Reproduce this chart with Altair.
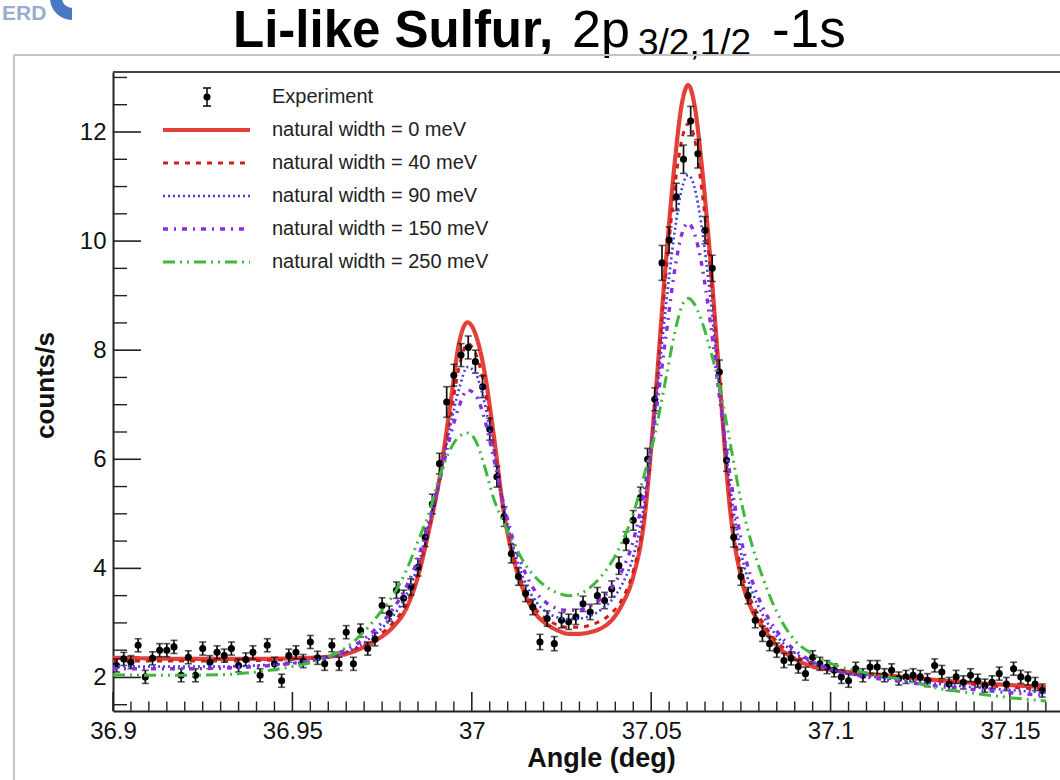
import altair as alt
import pandas as pd

# ---------------- data ----------------
curve_x = [36.900, 36.910, 36.920, 36.930, 36.940, 36.950, 36.955, 36.960, 36.965, 36.970,
           36.974, 36.978, 36.982, 36.985, 36.988, 36.991, 36.994, 36.9965, 36.9988, 37.001,
           37.0035, 37.006, 37.009, 37.012, 37.015, 37.018, 37.021, 37.024, 37.027, 37.030,
           37.033, 37.036, 37.039, 37.042, 37.045, 37.048, 37.051, 37.054, 37.0565, 37.0585,
           37.0603, 37.062, 37.064, 37.0665, 37.069, 37.072, 37.075, 37.078, 37.081, 37.085,
           37.090, 37.095, 37.100, 37.110, 37.120, 37.130, 37.140, 37.150, 37.160]

w0 = [2.36, 2.35, 2.34, 2.34, 2.34, 2.35, 2.36, 2.38, 2.43, 2.56,
      2.71, 2.92, 3.30, 3.85, 4.68, 5.65, 7.00, 8.15, 8.51, 8.30,
      7.62, 6.50, 5.00, 4.08, 3.50, 3.15, 2.97, 2.86, 2.80, 2.80,
      2.83, 2.90, 3.05, 3.35, 3.85, 4.85, 7.00, 9.55, 11.40, 12.50,
      12.86, 12.52, 11.45, 9.65, 7.50, 5.07, 3.85, 3.25, 2.93, 2.58,
      2.34, 2.20, 2.14, 2.07, 2.01, 1.95, 1.90, 1.86, 1.82]
w40 = [2.31, 2.30, 2.30, 2.30, 2.31, 2.33, 2.35, 2.39, 2.46, 2.60,
       2.77, 3.00, 3.38, 3.90, 4.70, 5.60, 6.75, 7.70, 8.12, 7.95,
       7.35, 6.30, 5.05, 4.15, 3.58, 3.24, 3.06, 2.96, 2.92, 2.92,
       2.96, 3.04, 3.18, 3.45, 3.95, 4.95, 7.00, 9.30, 10.95, 11.85,
       12.15, 11.90, 11.00, 9.45, 7.45, 5.25, 4.00, 3.38, 3.02, 2.66,
       2.40, 2.26, 2.17, 2.07, 2.00, 1.93, 1.87, 1.82, 1.78]
w90 = [2.21, 2.20, 2.20, 2.20, 2.22, 2.26, 2.30, 2.36, 2.46, 2.64,
       2.85, 3.12, 3.55, 4.05, 4.78, 5.62, 6.60, 7.30, 7.69, 7.58,
       7.05, 6.20, 5.10, 4.28, 3.72, 3.38, 3.19, 3.10, 3.07, 3.08,
       3.13, 3.24, 3.42, 3.72, 4.22, 5.15, 6.85, 8.75, 10.15, 10.95,
       11.21, 11.00, 10.30, 8.95, 7.30, 5.50, 4.30, 3.60, 3.16, 2.76,
       2.45, 2.27, 2.15, 2.03, 1.95, 1.88, 1.82, 1.77, 1.72]
w150 = [2.16, 2.16, 2.16, 2.17, 2.20, 2.26, 2.31, 2.39, 2.51, 2.71,
        2.94, 3.25, 3.70, 4.18, 4.85, 5.60, 6.42, 6.98, 7.27, 7.18,
        6.75, 6.05, 5.15, 4.42, 3.90, 3.55, 3.36, 3.26, 3.23, 3.24,
        3.31, 3.44, 3.65, 3.98, 4.50, 5.40, 6.70, 8.20, 9.45, 10.12,
        10.33, 10.15, 9.60, 8.50, 7.15, 5.70, 4.55, 3.80, 3.30, 2.85,
        2.50, 2.29, 2.15, 2.01, 1.92, 1.84, 1.78, 1.72, 1.67]
w250 = [2.05, 2.04, 2.04, 2.05, 2.10, 2.20, 2.27, 2.38, 2.55, 2.84,
        3.15, 3.50, 4.00, 4.50, 5.00, 5.68, 6.18, 6.42, 6.48, 6.35,
        5.88, 5.30, 4.82, 4.42, 4.06, 3.82, 3.65, 3.55, 3.50, 3.53,
        3.65, 3.85, 4.12, 4.50, 5.00, 5.70, 6.45, 7.45, 8.30, 8.80,
        8.95, 8.85, 8.55, 8.00, 7.35, 6.30, 5.25, 4.45, 3.85, 3.20,
        2.68, 2.43, 2.26, 2.08, 1.96, 1.80, 1.71, 1.63, 1.57]

exp_x = [36.901, 36.903, 36.905, 36.907, 36.909, 36.911, 36.913, 36.915, 36.917, 36.919,
         36.921, 36.923, 36.925, 36.927, 36.929, 36.931, 36.933, 36.935, 36.937, 36.939,
         36.941, 36.943, 36.945, 36.947, 36.949, 36.951, 36.953, 36.955, 36.957, 36.959,
         36.961, 36.963, 36.965, 36.967, 36.969, 36.971, 36.973, 36.975, 36.977, 36.979,
         36.981, 36.983, 36.985, 36.987, 36.989, 36.991, 36.993, 36.995, 36.997, 36.999,
         37.001, 37.003, 37.005, 37.007, 37.009, 37.011, 37.013, 37.015, 37.017, 37.019,
         37.021, 37.023, 37.025, 37.027, 37.029, 37.031, 37.033, 37.035, 37.037, 37.039,
         37.041, 37.043, 37.045, 37.047, 37.049, 37.051, 37.053, 37.055, 37.057, 37.059,
         37.061, 37.063, 37.065, 37.067, 37.069, 37.071, 37.073, 37.075, 37.077, 37.079,
         37.081, 37.083, 37.085, 37.087, 37.089, 37.091, 37.093, 37.095, 37.097, 37.099,
         37.101, 37.103, 37.105, 37.107, 37.109, 37.111, 37.113, 37.115, 37.117, 37.119,
         37.121, 37.123, 37.125, 37.127, 37.129, 37.131, 37.133, 37.135, 37.137, 37.139,
         37.141, 37.143, 37.145, 37.147, 37.149, 37.151, 37.153, 37.155, 37.157, 37.159]
exp_y = [2.22, 2.34, 2.28, 2.59, 2.01, 2.35, 2.50, 2.50, 2.56, 2.04,
         2.37, 2.04, 2.53, 2.28, 2.46, 2.40, 2.53, 2.22, 2.33, 2.46,
         2.04, 2.59, 2.25, 1.94, 2.40, 2.46, 2.30, 2.65, 2.36, 2.25,
         2.59, 2.25, 2.83, 2.25, 2.86, 2.53, 2.70, 3.32, 3.17, 3.60,
         3.45, 3.66, 4.02, 4.57, 5.18, 5.92, 7.05, 7.54, 7.91, 8.05,
         7.79, 7.33, 6.55, 5.68, 4.95, 4.27, 3.85, 3.54, 3.29, 2.65,
         3.08, 2.62, 3.05, 3.02, 3.11, 3.35, 3.20, 3.50, 3.41, 3.62,
         4.05, 4.50, 4.88, 5.30, 6.00, 7.10, 9.60, 10.02, 10.81, 11.50,
         12.20, 11.60, 10.20, 9.50, 7.60, 5.98, 4.57, 3.85, 3.50, 3.05,
         2.80, 2.62, 2.50, 2.31, 2.35, 2.20, 2.07, 2.37, 2.25, 2.19,
         2.13, 2.01, 1.94, 2.16, 2.04, 2.19, 2.19, 2.04, 2.13, 1.98,
         2.01, 2.04, 2.01, 1.95, 2.22, 2.10, 1.88, 2.01, 1.91, 2.04,
         1.94, 1.85, 1.91, 2.07, 1.88, 2.16, 2.01, 1.98, 1.88, 1.76]
exp_err = [0.12, 0.12, 0.12, 0.12, 0.12, 0.12, 0.12, 0.12, 0.12, 0.12,
           0.12, 0.12, 0.12, 0.12, 0.12, 0.12, 0.12, 0.12, 0.12, 0.12,
           0.12, 0.12, 0.12, 0.12, 0.12, 0.12, 0.12, 0.12, 0.12, 0.12,
           0.12, 0.12, 0.12, 0.12, 0.12, 0.12, 0.12, 0.14, 0.14, 0.15,
           0.15, 0.15, 0.16, 0.17, 0.18, 0.19, 0.28, 0.20, 0.21, 0.21,
           0.21, 0.20, 0.20, 0.19, 0.18, 0.17, 0.16, 0.15, 0.14, 0.14,
           0.14, 0.13, 0.14, 0.14, 0.14, 0.14, 0.14, 0.15, 0.15, 0.15,
           0.16, 0.17, 0.18, 0.19, 0.20, 0.21, 0.32, 0.24, 0.25, 0.26,
           0.27, 0.26, 0.25, 0.24, 0.22, 0.20, 0.18, 0.16, 0.15, 0.14,
           0.14, 0.13, 0.13, 0.13, 0.12, 0.12, 0.12, 0.12, 0.12, 0.12,
           0.12, 0.12, 0.12, 0.12, 0.12, 0.12, 0.12, 0.12, 0.12, 0.12,
           0.12, 0.12, 0.12, 0.12, 0.12, 0.12, 0.12, 0.12, 0.12, 0.12,
           0.12, 0.12, 0.12, 0.12, 0.12, 0.12, 0.12, 0.12, 0.12, 0.12]

series_labels = ["natural width = 0 meV", "natural width = 40 meV", "natural width = 90 meV",
                 "natural width = 150 meV", "natural width = 250 meV"]
series_values = [w0, w40, w90, w150, w250]
x_major = [36.9, 36.95, 37.0, 37.05, 37.1, 37.15]
y_major = [2, 4, 6, 8, 10, 12]

# ---------------- styling ----------------
W, H = 947, 639
PL, PT = 113, 72
FONT = "Liberation Sans"
styles = [
    dict(color="#e3403a", strokeWidth=4.2, strokeDash=[1, 0]),
    dict(color="#d01e1e", strokeWidth=3.0, strokeDash=[5, 6]),
    dict(color="#3b3bef", strokeWidth=2.6, strokeDash=[2, 3]),
    dict(color="#8a2be2", strokeWidth=3.4, strokeDash=[5, 6, 2, 6]),
    dict(color="#3dba3d", strokeWidth=3.0, strokeDash=[12, 5, 2, 5, 2, 5]),
]

x_scale = alt.Scale(domain=[36.9, 36.9 + W / 3588.0], nice=False, zero=False)
y_scale = alt.Scale(domain=[1.385, 13.10], nice=False, zero=False)

x_axis = alt.Axis(values=x_major, format="~g", ticks=False, tickSize=0, grid=False,
                  labelFont=FONT, labelFontSize=24, labelColor="#111", labelPadding=8,
                  domainColor="#222", domainWidth=2, labelFlush=False,
                  titleFont=FONT, titleFontSize=27, titleFontWeight="bold",
                  titleColor="#111", titleX=488, titleY=47, titleBaseline="middle", titleAlign="center")
y_axis = alt.Axis(values=y_major, ticks=False, tickSize=0, grid=False,
                  labelFont=FONT, labelFontSize=24, labelColor="#111", labelPadding=7,
                  domainColor="#222", domainWidth=2, labelFlush=False,
                  titleFont=FONT, titleFontSize=26, titleFontWeight="bold",
                  titleColor="#111", titleAngle=270, titleX=-68, titleY=313,
                  titleBaseline="middle", titleAlign="center")


def X(field):
    return alt.X(field, scale=x_scale, axis=x_axis, title="Angle (deg)")


def Y(field):
    return alt.Y(field, scale=y_scale, axis=y_axis, title="counts/s")


one = pd.DataFrame({"a": [0]})

# curves
curve_layers = []
for lab, vals, st in zip(series_labels, series_values, styles):
    df = pd.DataFrame({"x": curve_x, "y": vals})
    curve_layers.append(
        alt.Chart(df).mark_line(interpolate="monotone", clip=True, **st).encode(
            x=X("x:Q"), y=Y("y:Q"))
    )

# experiment
dfe = pd.DataFrame({"x": exp_x, "y": exp_y, "e": exp_err})
base_e = alt.Chart(dfe).transform_calculate(lo="datum.y - datum.e", hi="datum.y + datum.e")
ebar = base_e.mark_rule(color="#111", strokeWidth=1.7).encode(x=X("x:Q"), y=Y("lo:Q"), y2="hi:Q")
cap_lo = base_e.mark_tick(orient="horizontal", color="#111", size=7, thickness=1.6).encode(
    x=X("x:Q"), y=Y("lo:Q"))
cap_hi = base_e.mark_tick(orient="horizontal", color="#111", size=7, thickness=1.6).encode(
    x=X("x:Q"), y=Y("hi:Q"))
pts = base_e.mark_circle(color="#000", size=50, opacity=1).encode(x=X("x:Q"), y=Y("y:Q"))

# inward ticks (ROOT style)
xmin_ticks = [round(36.9 + 0.005 * i, 3) for i in range(53)]
ymin_ticks = [1.5 + 0.5 * i for i in range(24)]
dxM = pd.DataFrame({"x": x_major})
dxm = pd.DataFrame({"x": [v for v in xmin_ticks if v not in x_major]})
dyM = pd.DataFrame({"y": y_major})
dym = pd.DataFrame({"y": [v for v in ymin_ticks if v not in y_major]})

xt_major = alt.Chart(dxM).mark_rule(color="#222", strokeWidth=1.6).encode(
    x=X("x:Q"), y=alt.value(H), y2=alt.value(H - 19))
xt_minor = alt.Chart(dxm).mark_rule(color="#222", strokeWidth=1.4).encode(
    x=X("x:Q"), y=alt.value(H), y2=alt.value(H - 9.5))
yt_major = alt.Chart(dyM).mark_rule(color="#222", strokeWidth=1.6).encode(
    y=Y("y:Q"), x=alt.value(0), x2=alt.value(28))
yt_minor = alt.Chart(dym).mark_rule(color="#222", strokeWidth=1.4).encode(
    y=Y("y:Q"), x=alt.value(0), x2=alt.value(14))
top_frame = alt.Chart(one).mark_rule(color="#444", strokeWidth=2).encode(
    x=alt.value(0), x2=alt.value(W), y=alt.value(0))

# legend (manual, inside the frame)
leg = []
ly0 = 25
leg.append(alt.Chart(one).mark_rule(color="#111", strokeWidth=1.6).encode(
    x=alt.value(94), y=alt.value(ly0 - 9), y2=alt.value(ly0 + 9)))
for yy in (ly0 - 9, ly0 + 9):
    leg.append(alt.Chart(one).mark_rule(color="#111", strokeWidth=1.6).encode(
        x=alt.value(90), x2=alt.value(98), y=alt.value(yy)))
leg.append(alt.Chart(one).mark_point(filled=True, color="#000", size=50, opacity=1).encode(
    x=alt.value(94), y=alt.value(ly0)))
leg.append(alt.Chart(one).mark_text(align="left", baseline="middle", font=FONT, fontSize=20,
                                    color="#222").encode(
    x=alt.value(159), y=alt.value(ly0), text=alt.value("Experiment")))
for i, (lab, st) in enumerate(zip(series_labels, styles)):
    yy = 58 + 33 * i
    leg.append(alt.Chart(one).mark_rule(**st).encode(
        x=alt.value(50), x2=alt.value(137), y=alt.value(yy)))
    leg.append(alt.Chart(one).mark_text(align="left", baseline="middle", font=FONT, fontSize=20,
                                        color="#222").encode(
        x=alt.value(159), y=alt.value(yy), text=alt.value(lab)))

# slide decorations: title with subscript, logo, border
TF = "Liberation Sans"
deco = []
title_parts = [
    ("Li-like Sulfur,", "bold", 51, 233, 47),
    ("2p", "normal", 52, 572, 47),
    ("3/2,1/2", "normal", 37, 638, 55),
    ("-1s", "normal", 53, 772, 47),
]
for txt, wt, fs, ax, ay in title_parts:
    deco.append(alt.Chart(one).mark_text(align="left", baseline="alphabetic", font=TF,
                                         fontSize=fs, fontWeight=wt, color="#000").encode(
        x=alt.value(ax - PL), y=alt.value(ay - PT), text=alt.value(txt)))
deco.append(alt.Chart(one).mark_text(align="left", baseline="alphabetic", font=FONT,
                                     fontSize=21, fontWeight="bold", color="#9aaccf").encode(
    x=alt.value(2 - PL), y=alt.value(20 - PT), text=alt.value("ERD")))
deco.append(alt.Chart(one).mark_arc(theta=3.14159, theta2=6.28318, radius=22, radius2=10,
                                    color="#4a78c2").encode(
    x=alt.value(72 - PL), y=alt.value(-2 - PT)))
deco.append(alt.Chart(one).mark_rule(color="#c4c4c4", strokeWidth=2).encode(
    x=alt.value(14 - PL), x2=alt.value(1060 - PL), y=alt.value(55 - PT)))
deco.append(alt.Chart(one).mark_rule(color="#c4c4c4", strokeWidth=2).encode(
    x=alt.value(14 - PL), y=alt.value(55 - PT), y2=alt.value(780 - PT)))

chart = alt.layer(
    xt_major, xt_minor, yt_major, yt_minor, top_frame,
    curve_layers[0], curve_layers[1],
    ebar, cap_lo, cap_hi, pts,
    curve_layers[2], curve_layers[3], curve_layers[4],
    *leg, *deco,
).properties(
    width=W, height=H,
    autosize=alt.AutoSizeParams(type="none"),
    padding={"left": PL, "top": PT, "right": 0, "bottom": 780 - PT - H},
    background="white",
).configure_view(strokeWidth=0)

chart.save("out.html", embed_options={"renderer": "svg", "actions": False})
